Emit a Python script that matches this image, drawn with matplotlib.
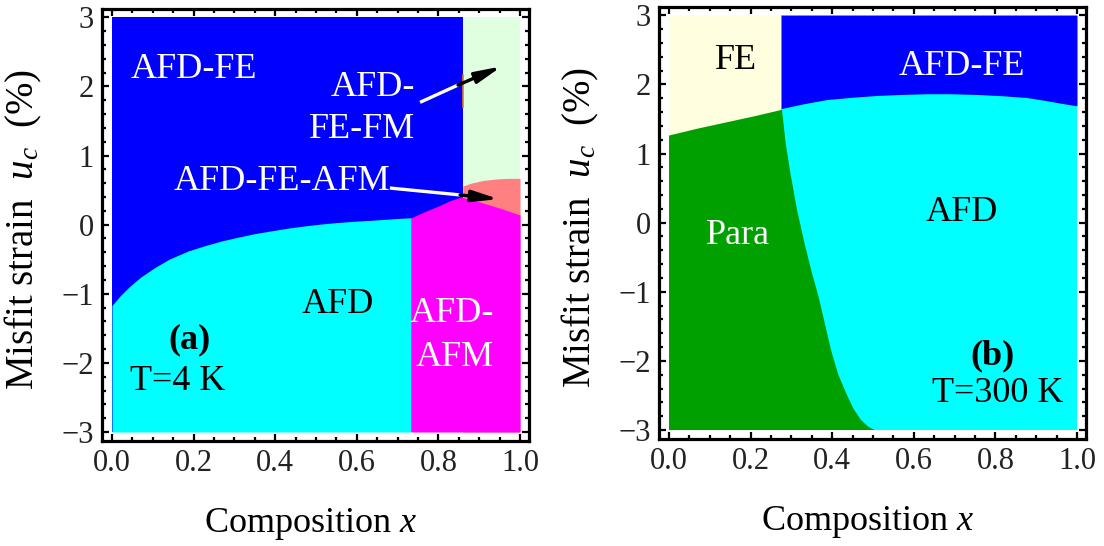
import matplotlib
matplotlib.use("Agg")
import matplotlib.pyplot as plt
import numpy as np
from matplotlib.ticker import MultipleLocator, FormatStrFormatter

# ---------------- data ----------------
# Panel (a), T = 4 K
a_curve_x = [0.0, 0.02, 0.044, 0.07, 0.105, 0.14, 0.187, 0.23, 0.269, 0.31, 0.350,
             0.39, 0.432, 0.47, 0.514, 0.55, 0.596, 0.64, 0.677, 0.70, 0.733]
a_curve_y = [-1.17, -1.03, -0.89, -0.76, -0.62, -0.50, -0.38, -0.30, -0.235, -0.18, -0.13,
             -0.09, -0.05, -0.02, 0.01, 0.03, 0.05, 0.065, 0.08, 0.09, 0.10]
a_fe_right = 0.86                      # right edge of AFD-FE phase
a_mag_x = [0.733, 0.767, 0.80, 0.83, 0.855, 0.90, 0.95, 1.0]
a_mag_y = [0.10, 0.19, 0.27, 0.35, 0.40, 0.33, 0.24, 0.14]
a_sal_x = [0.86, 0.88, 0.91, 0.94, 0.97, 1.0]
a_sal_y = [0.56, 0.60, 0.64, 0.66, 0.67, 0.67]
a_orange_y = [1.70, 2.16]

# Panel (b), T = 300 K
b_fe_x = [0.0, 0.07, 0.14, 0.21, 0.275]
b_fe_y = [1.26, 1.36, 1.45, 1.54, 1.63]
b_afdfe_x = [0.275, 0.33, 0.386, 0.45, 0.509, 0.57, 0.632, 0.69, 0.754, 0.82, 0.877,
             0.92, 0.958, 1.0]
b_afdfe_y = [1.65, 1.72, 1.78, 1.815, 1.84, 1.855, 1.865, 1.865, 1.855, 1.835, 1.81,
             1.77, 1.73, 1.69]
b_para_x = [0.277, 0.286, 0.298, 0.314, 0.333, 0.350, 0.367, 0.382, 0.397, 0.415,
            0.436, 0.452, 0.470, 0.488, 0.504]
b_para_y = [1.63, 1.15, 0.70, 0.18, -0.32, -0.72, -1.08, -1.46, -1.84, -2.20,
            -2.49, -2.69, -2.85, -2.95, -3.0]

# arrows in (a): white part start, junction, black tip
arrow1 = [(0.755, 1.77), (0.848, 2.02), (0.955, 2.29)]
arrow2 = [(0.681, 0.53), (0.853, 0.43), (0.948, 0.37)]

# labels: text, x, y, color, weight, ha
a_labels = [
    ("AFD-FE", 0.20, 2.24, "white", "normal", "center"),
    ("AFD-", 0.742, 1.98, "white", "normal", "right"),
    ("FE-FM", 0.742, 1.38, "white", "normal", "right"),
    ("AFD-FE-AFM", 0.417, 0.62, "white", "normal", "center"),
    ("AFD", 0.554, -1.15, "black", "normal", "center"),
    ("AFD-", 0.936, -1.28, "white", "normal", "right"),
    ("AFM", 0.936, -1.92, "white", "normal", "right"),
    ("(a)", 0.189, -1.67, "black", "bold", "center"),
    ("T=4 K", 0.162, -2.27, "black", "normal", "center"),
]
b_labels = [
    ("FE", 0.164, 2.34, "black", "normal", "center"),
    ("AFD-FE", 0.718, 2.26, "white", "normal", "center"),
    ("AFD", 0.718, 0.14, "black", "normal", "center"),
    ("Para", 0.169, -0.18, "white", "normal", "center"),
    ("(b)", 0.794, -1.93, "black", "bold", "center"),
    ("T=300 K", 0.806, -2.47, "black", "normal", "center"),
]

x_ticks = [0.0, 0.2, 0.4, 0.6, 0.8, 1.0]
y_ticks = [-3, -2, -1, 0, 1, 2, 3]

# ---------------- colours ----------------
BLUE = "#0000FF"
CYAN = "#00FFFF"
MAGENTA = "#FF00FF"
SALMON = "#FF8080"
LGREEN = "#E0FFE0"
LYELLOW = "#FFFFE0"
GREEN = "#00A000"

plt.rcParams["font.family"] = ["Liberation Serif", "DejaVu Serif"]
plt.rcParams["mathtext.fontset"] = "custom"
plt.rcParams["mathtext.rm"] = "Liberation Serif"
plt.rcParams["mathtext.it"] = "Liberation Serif:italic"
plt.rcParams["mathtext.bf"] = "Liberation Serif:bold"

fig = plt.figure(figsize=(11.04, 5.46), dpi=100)
axA = fig.add_axes([102 / 1104, 1 - 441 / 546, 427 / 1104, 432 / 546])
axB = fig.add_axes([659 / 1104, 1 - 439 / 546, 427 / 1104, 432 / 546])

kw = dict(linewidth=0, antialiased=True)

# ---- panel (a) ----
axA.fill_between([0.0, a_fe_right], -3, 3, color=BLUE, **kw)
axA.fill_between([a_fe_right, 1.0], -3, 3, color=LGREEN, **kw)
axA.fill_between(a_sal_x, -3, a_sal_y, color=SALMON, **kw)
axA.fill_between(a_mag_x, -3, a_mag_y, color=MAGENTA, **kw)
axA.fill_between(a_curve_x, -3, a_curve_y, color=CYAN, **kw)
axA.plot([a_fe_right, a_fe_right], a_orange_y, color="#E07820", lw=1.2)

for arr in (arrow1, arrow2):
    axA.plot([arr[0][0], arr[1][0]], [arr[0][1], arr[1][1]], color="white",
             lw=2.4, solid_capstyle="butt")
    axA.annotate("", xy=arr[2], xytext=arr[1],
                 arrowprops=dict(arrowstyle="-|>,head_length=1.3,head_width=0.28",
                                 color="black", lw=2.4, shrinkA=0, shrinkB=0,
                                 mutation_scale=12))

# ---- panel (b) ----
axB.fill_between([0.0, 1.0], -3, 3, color=CYAN, **kw)
axB.fill_between([0.0, b_fe_x[-1]], -3, 3, color=LYELLOW, **kw)
green_x = [0.0] + b_para_x[::-1] + b_fe_x[::-1]
green_y = [-3.0] + b_para_y[::-1] + b_fe_y[::-1]
axB.fill(green_x, green_y, color=GREEN, **kw)
axB.fill_between(b_afdfe_x, b_afdfe_y, 3, color=BLUE, **kw)

for ax, labels in ((axA, a_labels), (axB, b_labels)):
    for t, x, y, c, w, ha in labels:
        ax.text(x, y, t, color=c, fontsize=26, fontweight=w, ha=ha, va="center")

# ---- frames / ticks ----
for ax in (axA, axB):
    ax.set_xlim(-0.0245, 1.022)
    ax.set_ylim(-3.13, 3.12)
    ax.set_xticks(x_ticks)
    ax.set_yticks(y_ticks)
    ax.xaxis.set_major_formatter(FormatStrFormatter("%.1f"))
    ax.xaxis.set_minor_locator(MultipleLocator(0.05))
    ax.yaxis.set_minor_locator(MultipleLocator(0.2))
    ax.tick_params(which="both", direction="in", top=True, right=True,
                   width=1.6, color="black")
    ax.tick_params(which="major", length=5, labelsize=22, pad=6,
                   labelcolor="#222222")
    ax.tick_params(which="minor", length=3)
    for s in ax.spines.values():
        s.set_linewidth(2.3)
    ax.set_xlabel("Composition $x$", fontsize=26)
    ax.set_ylabel("Misfit strain  $u_c$  (%)", fontsize=28)
    ax.xaxis.set_label_coords(0.49, -0.15)
    ax.yaxis.set_label_coords(-0.135, 0.49)

fig.savefig("out.png", dpi=100)
